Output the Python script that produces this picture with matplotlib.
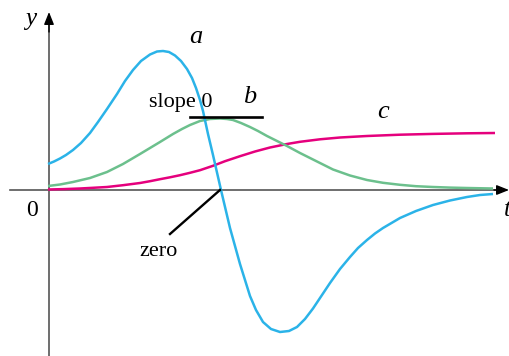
import matplotlib
matplotlib.use("Agg")
import matplotlib.pyplot as plt

# ---- data ----
a_t = [0, 0.6, 1.2, 1.8, 2.5, 3.3, 4.2, 5.0, 5.9, 6.9, 7.7, 8.5, 9.3, 10.2, 10.9, 11.5,
       12.1, 12.7, 13.3, 13.9, 14.4, 14.8, 15.2, 15.5, 16.0, 16.5, 17.3, 18.2, 19.2, 20.2,
       20.8, 21.5, 22.3, 23.2, 24.1, 24.9, 25.7, 26.5, 27.3, 28.2, 29.2, 30.2, 31.0, 31.9,
       32.7, 33.5, 35.2, 36.8, 38.5, 40.2, 41.9, 43.2, 44.5]
a_y = [2.6, 2.85, 3.15, 3.5, 4.0, 4.7, 5.7, 6.8, 8.1, 9.6, 10.9, 12.0, 12.9, 13.55, 13.85, 13.9,
       13.8, 13.45, 12.9, 12.1, 11.2, 10.2, 9.0, 7.9, 5.6, 3.5, 0.0, -3.8, -7.4, -10.6,
       -12.0, -13.2, -13.9, -14.2, -14.1, -13.7, -12.9, -11.85, -10.65, -9.3, -7.9, -6.7, -5.8, -5.0,
       -4.35, -3.8, -2.8, -2.1, -1.5, -1.05, -0.7, -0.5, -0.4]

b_t = [0, 1.2, 2.5, 4.2, 5.9, 7.5, 9.2, 10.2, 11.2, 12.5, 13.4, 14.2, 15.2, 16.2, 17.2, 17.9,
       18.5, 19.3, 20.2, 21.0, 21.9, 22.9, 23.9, 25.2, 26.2, 27.2, 28.5, 30.2, 31.9, 33.5,
       35.2, 36.8, 38.5, 40.2, 41.9, 44.5]
b_y = [0.4, 0.55, 0.8, 1.2, 1.8, 2.6, 3.6, 4.2, 4.8, 5.6, 6.1, 6.5, 6.9, 7.1, 7.15, 7.1,
       7.0, 6.7, 6.3, 5.9, 5.4, 4.9, 4.4, 3.7, 3.2, 2.7, 2.05, 1.45, 1.0, 0.72,
       0.52, 0.38, 0.3, 0.24, 0.2, 0.15]

c_t = [0, 1.6, 3.2, 4.5, 5.9, 7.5, 9.2, 10.2, 11.2, 12.2, 13.2, 14.2, 15.2, 16.5, 17.7, 19.2,
       20.7, 22.2, 23.9, 25.2, 27.2, 29.2, 31.9, 35.2, 38.5, 41.9, 44.7]
c_y = [0.05, 0.09, 0.15, 0.22, 0.3, 0.48, 0.7, 0.88, 1.08, 1.27, 1.48, 1.72, 1.98, 2.42, 2.88, 3.38,
       3.85, 4.25, 4.6, 4.82, 5.07, 5.25, 5.4, 5.53, 5.61, 5.67, 5.7]

curve_labels = ["a", "b", "c"]

# ---- figure ----
fig = plt.figure(figsize=(5.10, 3.56), dpi=100)
ax = fig.add_axes([0, 0, 1, 1])
ax.set_xlim(-4.8, 46.2)
ax.set_ylim(-16.6, 19.0)
ax.axis("off")

axis_col = "#555555"
# t axis
ax.plot([-3.8, 45.3], [0, 0], color=axis_col, lw=1.2, zorder=1)
ax.annotate("", xy=(46.1, 0), xytext=(44.6, 0),
            arrowprops=dict(arrowstyle="-|>,head_length=0.75,head_width=0.3",
                            color="black", lw=1.0, shrinkA=0, shrinkB=0))
# y axis
ax.plot([0.1, 0.1], [-16.6, 16.8], color=axis_col, lw=1.2, zorder=1)
ax.annotate("", xy=(0.1, 17.8), xytext=(0.1, 15.8),
            arrowprops=dict(arrowstyle="-|>,head_length=0.75,head_width=0.3",
                            color="black", lw=1.0, shrinkA=0, shrinkB=0))

# curves
kw = dict(lw=1.8, solid_capstyle="butt", solid_joinstyle="round")
ax.plot(c_t, c_y, color="#e5007d", zorder=3, **kw)
ax.plot(b_t, b_y, color="#6cc08d", zorder=3, **kw)
ax.plot(a_t, a_y, color="#2bb3e8", zorder=4, **kw)

# slope 0 tangent line and zero leader
ax.plot([14.2, 21.4], [7.3, 7.3], color="black", lw=1.9, zorder=5)
ax.plot([17.2, 12.2], [0, -4.4], color="black", lw=1.7, zorder=5)

serif = ["Liberation Serif", "DejaVu Serif"]
ax.text(-1.7, 17.1, "y", fontsize=18, style="italic", family=serif, ha="center", va="center")
ax.text(45.6, -2.0, "t", fontsize=18, style="italic", family=serif, ha="left", va="center")
ax.text(-1.6, -2.1, "0", fontsize=17, family=serif, ha="center", va="center")
ax.text(14.8, 15.3, curve_labels[0], fontsize=19, style="italic", family=serif, ha="center", va="center")
ax.text(20.2, 9.3, curve_labels[1], fontsize=19, style="italic", family=serif, ha="center", va="center")
ax.text(33.5, 7.8, curve_labels[2], fontsize=19, style="italic", family=serif, ha="center", va="center")
ax.text(13.25, 8.8, "slope 0", fontsize=16, family=serif, ha="center", va="center")
ax.text(11.1, -6.2, "zero", fontsize=16, family=serif, ha="center", va="center")

fig.savefig("out.png", dpi=100)
